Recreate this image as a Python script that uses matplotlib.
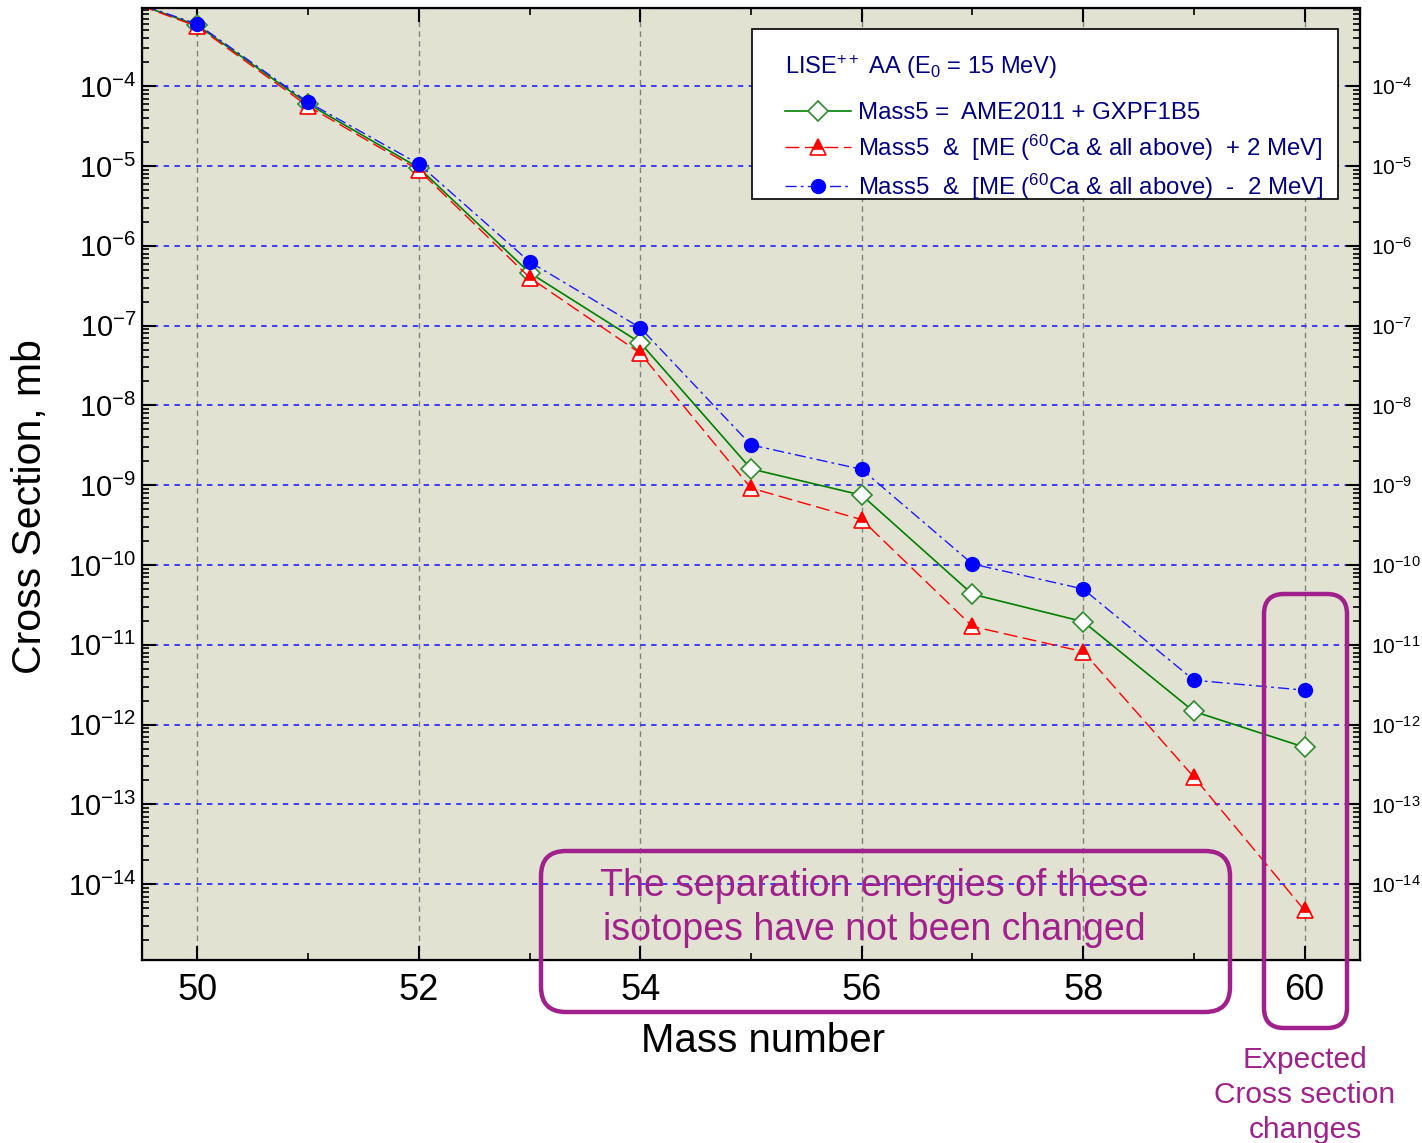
import matplotlib
matplotlib.use("Agg")
import matplotlib.pyplot as plt
from matplotlib.patches import FancyBboxPatch, Rectangle
from matplotlib.ticker import LogLocator, MultipleLocator, NullFormatter

plt.rcParams['font.family'] = ['Liberation Sans', 'DejaVu Sans']
plt.rcParams['mathtext.fontset'] = 'custom'
plt.rcParams['mathtext.rm'] = 'Liberation Sans'
plt.rcParams['mathtext.it'] = 'Liberation Sans:italic'
plt.rcParams['mathtext.bf'] = 'Liberation Sans:bold'

# Data (cross section in mb)
mass = [49, 50, 51, 52, 53, 54, 55, 56, 57, 58, 59, 60]
xs_mass5 = [1.8e-3, 5.8e-4, 6.0e-5, 9.5e-6, 4.6e-7, 6.1e-8, 1.6e-9, 7.5e-10,
            4.3e-11, 1.95e-11, 1.46e-12, 5.2e-13]
xs_plus2 = [1.8e-3, 5.6e-4, 5.6e-5, 8.9e-6, 4.0e-7, 4.5e-8, 9.2e-10, 3.7e-10,
            1.7e-11, 8.2e-12, 2.2e-13, 4.7e-15]
xs_minus2 = [1.8e-3, 6.0e-4, 6.3e-5, 1.06e-5, 6.3e-7, 9.4e-8, 3.2e-9, 1.58e-9,
             1.03e-10, 5.0e-11, 3.6e-12, 2.7e-12]

lbl_mass5 = "Mass5 =  AME2011 + GXPF1B5"
lbl_plus2 = "Mass5  &  [ME ($^{60}$Ca & all above)  + 2 MeV]"
lbl_minus2 = "Mass5  &  [ME ($^{60}$Ca & all above)  -  2 MeV]"
legend_title = "LISE$^{++}$ AA (E$_{0}$ = 15 MeV)"

purple = '#a0208c'
navy = '#000080'
W, H = 1422, 1143

fig = plt.figure(figsize=(W/100, H/100), dpi=100)
ax = fig.add_axes([142/W, 1-960/H, (1360-142)/W, (960-8)/H])
ax.set_facecolor('#e2e2d2')

ax.plot(mass, xs_mass5, color='#008000', lw=1.2, marker='D', ms=10,
        mfc='white', mec='#2e8b2e', mew=1.2, label=lbl_mass5, zorder=3)
ax.plot(mass, xs_plus2, color='red', lw=1.0, dashes=(10, 4), marker='^', ms=11,
        fillstyle='top', mfc='red', mfcalt='white', mec='red', mew=1.2,
        label=lbl_plus2, zorder=4)
ax.plot(mass, xs_minus2, color='#1a1aff', lw=1.0, dashes=(8, 3, 2, 3), marker='o',
        ms=10, mfc='blue', mec='blue', label=lbl_minus2, zorder=5)

ylim = (10**-14.95, 10**-3.02)
ax.set_xlim(49.5, 60.5)
ax.set_yscale('log')
ax.set_ylim(ylim)

ax.xaxis.set_major_locator(MultipleLocator(2))
ax.xaxis.set_minor_locator(MultipleLocator(1))
ax.yaxis.set_major_locator(LogLocator(base=10, numticks=30))
ax.yaxis.set_minor_locator(LogLocator(base=10, subs=range(2, 10), numticks=300))
ax.yaxis.set_minor_formatter(NullFormatter())

ax.set_axisbelow(True)
ax.xaxis.grid(True, which='major', color='#808080', ls=(0, (4, 3)), lw=1)
ax.yaxis.grid(True, which='major', color='#3030ff', ls=(0, (3, 3)), lw=1.3)

ax.tick_params(axis='both', which='both', direction='in', top=True, right=False)
ax.tick_params(axis='x', which='major', length=10, width=1.5, labelsize=26, pad=9)
ax.tick_params(axis='x', which='minor', length=5, width=1.2)
ax.tick_params(axis='y', which='major', length=10, width=1.5, labelsize=21, pad=4)
ax.tick_params(axis='y', which='minor', length=5, width=1.2)
for s in ax.spines.values():
    s.set_linewidth(1.6)

# right hand axis just repeats the decades with smaller labels
ax2 = ax.twinx()
ax2.set_yscale('log')
ax2.set_ylim(ylim)
ax2.yaxis.set_major_locator(LogLocator(base=10, numticks=30))
ax2.yaxis.set_minor_locator(LogLocator(base=10, subs=range(2, 10), numticks=300))
ax2.yaxis.set_minor_formatter(NullFormatter())
ax2.tick_params(axis='y', which='major', direction='in', length=10, width=1.5,
                labelsize=15, pad=8)
ax2.tick_params(axis='y', which='minor', direction='in', length=5, width=1.2)

ax.set_xlabel('Mass number', fontsize=29)
ax.xaxis.set_label_coords((763-142)/1218, (960-1022)/952)
ax.set_ylabel('Cross Section, mb', fontsize=29.5, va='center')
ax.yaxis.set_label_coords((30-142)/1218, (960-507)/952)

# legend: frame and title drawn by hand, entries by matplotlib
frame = Rectangle((7.52, (H-199)/100), 5.86, 1.70, transform=fig.dpi_scale_trans,
                  facecolor='white', edgecolor='black', lw=1.2, zorder=8)
fig.add_artist(frame)
fig.text(785/W, 1-67/H, legend_title, ha='left', va='center', fontsize=17,
         color=navy, zorder=9)
leg = ax.legend(loc='upper left', bbox_to_anchor=(785/W, 1-102/H),
                bbox_transform=fig.transFigure, fontsize=17.3, frameon=False,
                handlelength=2.75, handletextpad=0.3, labelspacing=0.36,
                borderpad=0, borderaxespad=0, numpoints=1)
leg.set_zorder(9)
fig.add_artist(leg)
for t in leg.get_texts():
    t.set_color(navy)

# purple annotation boxes (figure pixel positions / 100 -> inches)
box1 = FancyBboxPatch((5.41, (H-1012)/100), 6.89, 1.61,
                      boxstyle='round,pad=0,rounding_size=0.25',
                      transform=fig.dpi_scale_trans, fill=False,
                      edgecolor=purple, lw=3.2, zorder=10)
box2 = FancyBboxPatch((12.64, (H-1028)/100), 0.83, 4.34,
                      boxstyle='round,pad=0,rounding_size=0.2',
                      transform=fig.dpi_scale_trans, fill=False,
                      edgecolor=purple, lw=3.2, zorder=10)
fig.add_artist(box1)
fig.add_artist(box2)

fig.text(874/W, 1-908/H,
         "The separation energies of these\nisotopes have not been changed",
         ha='center', va='center', fontsize=27, color=purple, linespacing=1.3,
         zorder=11)
fig.text(1305/W, 1-1095/H, "Expected\nCross section\nchanges",
         ha='center', va='center', fontsize=21.5, color=purple, linespacing=1.3)

fig.savefig('out.png', dpi=100)
